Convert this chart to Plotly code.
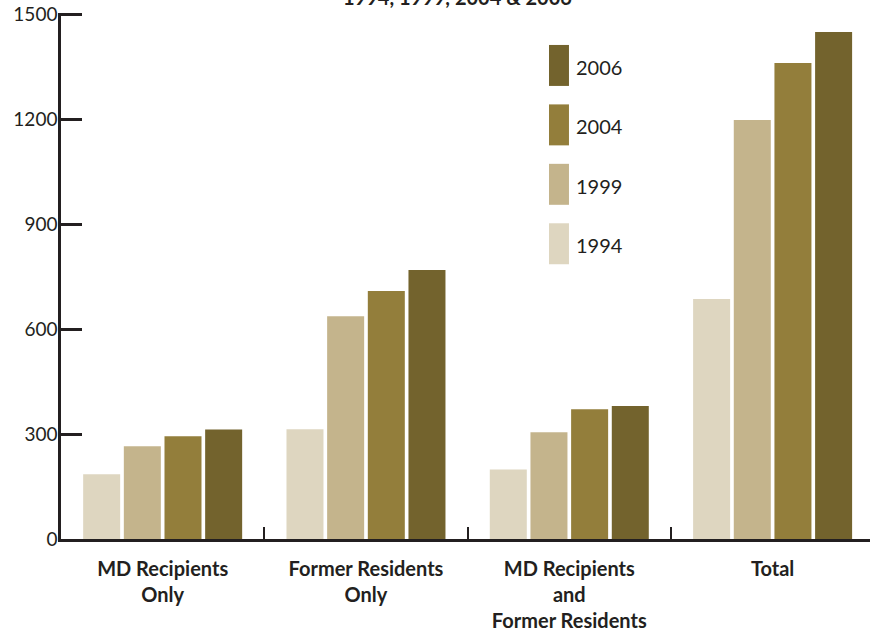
import plotly.graph_objects as go

categories = ["MD Recipients<br>Only", "Former Residents<br>Only",
              "MD Recipients<br>and<br>Former Residents", "Total"]
years = ["1994", "1999", "2004", "2006"]
values_1994 = [185, 314, 199, 686]
values_1999 = [265, 637, 305, 1198]
values_2004 = [294, 709, 371, 1361]
values_2006 = [313, 769, 380, 1450]
colors = ["#DED6C0", "#C4B48C", "#937E3B", "#73632D"]
y_ticks = [0, 300, 600, 900, 1200, 1500]
title_text = "1994, 1999, 2004 & 2006"

series = [values_1994, values_1999, values_2004, values_2006]
ink = "#231F20"
font_family = "Lato"

fig = go.Figure()
for name, vals, col in zip(years, series, colors):
    fig.add_trace(go.Bar(x=categories, y=vals, name=name,
                         marker=dict(color=col, line=dict(width=0)),
                         showlegend=False))

# custom legend (tall swatches, newest on top)
leg_x0, leg_x1 = 0.6032, 0.6279   # paper x of swatch
leg_top = 0.9003                  # paper y of first swatch centre
leg_step = 0.1130
sw_h = 0.0779
shapes = []
annotations = []
for i, (name, col) in enumerate(zip(reversed(years), reversed(colors))):
    yc = leg_top - i * leg_step
    shapes.append(dict(type="rect", xref="paper", yref="paper",
                       x0=leg_x0, x1=leg_x1, y0=yc - sw_h / 2, y1=yc + sw_h / 2,
                       fillcolor=col, line=dict(width=0)))
    annotations.append(dict(xref="paper", yref="paper", x=0.634, y=yc - 0.003,
                            xanchor="left", yanchor="middle", showarrow=False,
                            text=name, font=dict(family=font_family, size=20, color=ink)))

annotations.append(dict(xref="paper", yref="paper", x=0.4895, y=1.0313,
                        xanchor="center", yanchor="middle", showarrow=False,
                        text="<b>" + title_text + "</b>",
                        font=dict(family=font_family, size=20, color=ink)))

fig.update_layout(
    width=870, height=637,
    margin=dict(l=61, r=0, t=12.5, b=98, pad=0, autoexpand=False),
    paper_bgcolor="white", plot_bgcolor="white",
    barmode="group", bargap=0.2, bargroupgap=0.09,
    shapes=shapes, annotations=annotations,
    font=dict(family=font_family, color=ink),
    xaxis=dict(range=[-0.5, 3.479], showgrid=False, zeroline=False,
               showline=True, linecolor=ink, linewidth=2.5,
               ticks="inside", tickson="boundaries", ticklen=12, tickwidth=2,
               tickcolor=ink, ticklabelstandoff=10, automargin=False,
               tickfont=dict(family=font_family, size=20, color=ink, weight="bold")),
    yaxis=dict(range=[0, 1504], tickvals=y_ticks, showgrid=False, zeroline=False,
               showline=True, linecolor=ink, linewidth=2.5, automargin=False,
               ticks="inside", ticklen=21, tickwidth=2.5, tickcolor=ink,
               ticklabelstandoff=-3, ticklabeloverflow="allow",
               tickfont=dict(family=font_family, size=19, color=ink)),
)

fig.write_html("out.html", config={"displayModeBar": False},
               post_script="document.body.style.margin='0px';")
